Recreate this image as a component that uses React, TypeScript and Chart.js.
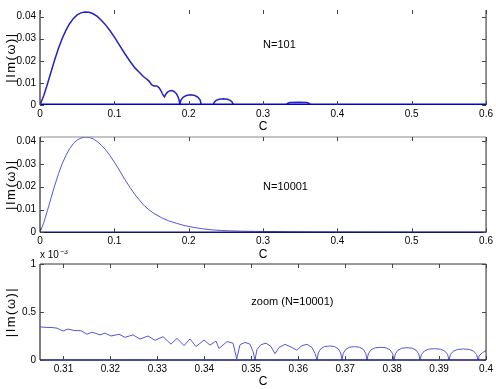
import React, { useEffect, useRef } from "react";
import { Chart, registerables } from "chart.js";

Chart.register(...registerables);

// ---------- Panel 1: N=101 ----------
const c101 = [
  0, 0.005, 0.01, 0.015, 0.02, 0.025, 0.03, 0.035, 0.04, 0.045, 0.05, 0.055, 0.0605, 0.066, 0.0715,
  0.077, 0.0825, 0.0874, 0.094, 0.1008, 0.1075, 0.1142, 0.121, 0.1277, 0.1345, 0.139, 0.143, 0.147, 0.15,
  0.153, 0.157, 0.16, 0.1625, 0.1645, 0.166, 0.1675, 0.169, 0.1715, 0.1745, 0.178, 0.181, 0.1835, 0.1855,
  0.1872, 0.188,
  0.1895, 0.1924, 0.1967, 0.2025, 0.2083, 0.2126, 0.2155, 0.217, 0.233,
  0.2344, 0.237, 0.2411, 0.2465, 0.2519, 0.256, 0.2587, 0.26, 0.3315,
  0.333, 0.336, 0.3475, 0.359, 0.362, 0.3637, 0.6,
];
const im101 = [
  0, 0.0042, 0.0095, 0.0152, 0.0207, 0.0258, 0.0302, 0.0339, 0.0369, 0.0392, 0.0408, 0.0417, 0.0421, 0.042, 0.0413,
  0.0401, 0.0384, 0.0366, 0.0337, 0.0304, 0.0268, 0.0232, 0.0198, 0.0168, 0.0145, 0.0129, 0.0119, 0.0107, 0.0092,
  0.0086, 0.0086, 0.0079, 0.0066, 0.0052, 0.0043, 0.0037, 0.0048, 0.0058, 0.0064, 0.0065, 0.006, 0.0051, 0.0038,
  0.0022, 0,
  0.0022, 0.0035, 0.0043, 0.0046, 0.0043, 0.0035, 0.0022, 0, 0,
  0.0013, 0.0021, 0.0026, 0.0028, 0.0026, 0.0021, 0.0013, 0, 0,
  0.0007, 0.0011, 0.0012, 0.0011, 0.0007, 0, 0,
];
const zeroC101 = [0, 0.6];
const zeroIm101 = [0, 0];

// ---------- Panel 2: N=10001 ----------
const c10001 = [
  0, 0.005, 0.01, 0.015, 0.02, 0.025, 0.03, 0.035, 0.04, 0.045, 0.05, 0.055, 0.0605, 0.066, 0.0715,
  0.077, 0.0825, 0.0874, 0.094, 0.1008, 0.1075, 0.1142, 0.121, 0.1277, 0.1345, 0.1411, 0.148, 0.1546,
  0.1635, 0.1725, 0.184, 0.195, 0.206, 0.2173, 0.23, 0.244, 0.258, 0.271, 0.29, 0.307, 0.33, 0.35, 0.375,
  0.4, 0.45, 0.5, 0.6,
];
const im10001 = [
  0, 0.0042, 0.0095, 0.0152, 0.0207, 0.0258, 0.0302, 0.0338, 0.0367, 0.039, 0.0405, 0.0413, 0.0417, 0.0416, 0.041,
  0.0398, 0.0382, 0.0365, 0.0337, 0.0304, 0.0268, 0.0231, 0.0197, 0.0165, 0.0138, 0.0114, 0.0095, 0.008,
  0.0064, 0.0051, 0.0039, 0.0029, 0.0022, 0.0016, 0.0011, 0.0008, 0.0006, 0.0005, 0.0004, 0.00034, 0.00025,
  0.0002, 0.00014, 0.0001, 0.00006, 0.00004, 0.00002,
];

// ---------- Panel 3: zoom (N=10001), values in units of 1e-3 ----------
const cZoom = [
  0.305, 0.30628, 0.30756, 0.30862, 0.3099, 0.31096, 0.31245, 0.31373, 0.31501, 0.31608, 0.31778, 0.31884,
  0.32012, 0.32183, 0.3231, 0.32481, 0.3263, 0.328, 0.32949, 0.3312, 0.3329, 0.33418, 0.33567, 0.33695,
  0.33823, 0.33993, 0.34121, 0.34249, 0.34313, 0.34483, 0.34611, 0.3469, 0.3476, 0.34866, 0.34973, 0.35037,
  0.35079, 0.35122, 0.35207, 0.35314, 0.3542, 0.35505, 0.3559, 0.35718, 0.35846, 0.35968, 0.3608, 0.36187,
  0.36293, 0.36357, 0.364,
  0.36427, 0.3648, 0.3656, 0.36666, 0.36772, 0.36852, 0.36905, 0.36932,
  0.36959, 0.37012, 0.37092, 0.37199, 0.37305, 0.37385, 0.37438, 0.37465,
  0.37494, 0.37551, 0.37638, 0.37753, 0.37868, 0.37954, 0.38011, 0.3804,
  0.38068, 0.38123, 0.38206, 0.38317, 0.38428, 0.38511, 0.38566, 0.38594,
  0.38625, 0.38687, 0.38779, 0.38903, 0.39026, 0.39118, 0.3918, 0.39211,
  0.39242, 0.39304, 0.39396, 0.3952, 0.39644, 0.39736, 0.39798, 0.39829,
  0.39845, 0.3992, 0.4,
];
const imZoom = [
  0.345, 0.34, 0.338, 0.332, 0.302, 0.322, 0.306, 0.305, 0.268, 0.29, 0.262, 0.28,
  0.25, 0.268, 0.236, 0.262, 0.218, 0.25, 0.205, 0.243, 0.165, 0.226, 0.15, 0.219,
  0.14, 0.208, 0.155, 0.198, 0.12, 0.192, 0.175, 0.01, 0.16, 0.183, 0.165, 0.09,
  0, 0.11, 0.16, 0.175, 0.14, 0.065, 0.13, 0.163, 0.135, 0.104, 0.15, 0.163,
  0.13, 0.07, 0,
  0.073, 0.117, 0.14, 0.146, 0.14, 0.117, 0.073, 0,
  0.07, 0.111, 0.133, 0.139, 0.133, 0.111, 0.07, 0,
  0.066, 0.106, 0.127, 0.132, 0.127, 0.106, 0.066, 0,
  0.064, 0.102, 0.123, 0.128, 0.123, 0.102, 0.064, 0,
  0.059, 0.094, 0.113, 0.118, 0.113, 0.094, 0.059, 0,
  0.058, 0.092, 0.11, 0.115, 0.11, 0.092, 0.058, 0,
  0.04, 0.075, 0.1,
];

// ---------- Ticks ----------
const xTicksFull = [0, 0.1, 0.2, 0.3, 0.4, 0.5, 0.6];
const yTicks1 = [0, 0.01, 0.02, 0.03, 0.04];
const yTicks2 = [0, 0.01, 0.02, 0.03, 0.04];
const xTicksZoom = [0.31, 0.32, 0.33, 0.34, 0.35, 0.36, 0.37, 0.38, 0.39, 0.4];
const yTicksZoom = [0, 0.5, 1];

const FONT = '"Liberation Sans", Arial, Helvetica, sans-serif';
const W = 496;
const RIGHT_EDGE = 486.5;
const LEFT_EDGE = 40;

type Series = { c: number[]; v: number[]; color: string; width: number };
type Spec = {
  height: number;
  areaTop: number;
  areaBottom: number;
  xMin: number;
  xMax: number;
  yMin: number;
  yMax: number;
  xTicks: number[];
  yTicks: number[];
  series: Series[];
  note: { text: string; x: number; y: number };
  topBorder: string | null;
  bottomBorder: string | null;
  exponent?: boolean;
};

function makePlugin(spec: Spec) {
  return {
    id: "matlabAxes",
    afterDraw(chart: any) {
      const { ctx, chartArea: a, scales } = chart;
      const x = scales.x;
      const y = scales.y;
      ctx.save();
      const line = (x1: number, y1: number, x2: number, y2: number) => {
        ctx.beginPath();
        ctx.moveTo(x1, y1);
        ctx.lineTo(x2, y2);
        ctx.stroke();
      };
      // borders
      ctx.lineWidth = 1.5;
      ctx.strokeStyle = "#555";
      line(a.left, a.top, a.left, a.bottom);
      ctx.lineWidth = 1;
      ctx.strokeStyle = "#222";
      line(a.right, a.top, a.right, a.bottom);
      if (spec.topBorder) {
        ctx.strokeStyle = spec.topBorder;
        line(a.left, a.top, a.right, a.top);
      }
      if (spec.bottomBorder) {
        ctx.lineWidth = 1.5;
        ctx.strokeStyle = spec.bottomBorder;
        line(a.left, a.bottom, a.right, a.bottom);
      }
      // inward ticks
      ctx.lineWidth = 1;
      ctx.strokeStyle = "#444";
      const TL = 4;
      for (const t of spec.xTicks) {
        const px = Math.round(x.getPixelForValue(t)) + 0.5;
        line(px, a.bottom, px, a.bottom - TL);
        line(px, a.top, px, a.top + TL);
      }
      for (const t of spec.yTicks) {
        const py = Math.round(y.getPixelForValue(t)) + 0.5;
        line(a.left, py, a.left + TL, py);
        line(a.right, py, a.right - TL, py);
      }
      ctx.fillStyle = "#000";
      // x title
      ctx.font = `12px ${FONT}`;
      ctx.textAlign = "center";
      ctx.textBaseline = "middle";
      ctx.fillText("C", (a.left + a.right) / 2, a.bottom + 22);
      // y title
      ctx.save();
      ctx.translate(11, (a.top + a.bottom) / 2);
      ctx.rotate(-Math.PI / 2);
      ctx.font = `13px ${FONT}`;
      try {
        (ctx as any).letterSpacing = "1.5px";
      } catch (e) {}
      ctx.textAlign = "center";
      ctx.textBaseline = "middle";
      ctx.fillText("|Im(ω)|", 0, 0);
      ctx.restore();
      // note
      ctx.font = `11px ${FONT}`;
      ctx.textAlign = "left";
      ctx.textBaseline = "middle";
      ctx.fillText(spec.note.text, x.getPixelForValue(spec.note.x), y.getPixelForValue(spec.note.y));
      // exponent
      if (spec.exponent) {
        ctx.font = `10px ${FONT}`;
        ctx.textBaseline = "alphabetic";
        const base = "x 10";
        ctx.fillText(base, a.left, a.top - 6);
        const w = ctx.measureText(base).width;
        ctx.font = `7px ${FONT}`;
        ctx.fillText("−3", a.left + w + 1, a.top - 10);
      }
      ctx.restore();
    },
  };
}

function Panel({ spec, top }: { spec: Spec; top: number }) {
  const ref = useRef<HTMLCanvasElement>(null);
  useEffect(() => {
    const canvas = ref.current!;
    const chart = new Chart(canvas, {
      type: "line",
      data: {
        datasets: spec.series.map((s) => ({
          data: s.c.map((cv, i) => ({ x: cv, y: s.v[i] })),
          borderColor: s.color,
          borderWidth: s.width,
          pointRadius: 0,
          tension: 0,
          fill: false,
        })),
      },
      options: {
        responsive: false,
        animation: false,
        devicePixelRatio: 1,
        layout: { padding: { left: 0, right: W - RIGHT_EDGE, top: spec.areaTop, bottom: 0 } },
        plugins: { legend: { display: false }, tooltip: { enabled: false } },
        scales: {
          x: {
            type: "linear",
            min: spec.xMin,
            max: spec.xMax,
            grid: { display: false, drawTicks: false },
            border: { display: false },
            ticks: {
              padding: 3,
              autoSkip: false,
              maxRotation: 0,
              color: "#000",
              font: { family: FONT, size: 10 },
              callback: (v: any) => String(v),
            },
            afterBuildTicks: (axis: any) => {
              axis.ticks = spec.xTicks.map((value) => ({ value }));
            },
            afterFit: (axis: any) => {
              axis.height = spec.height - spec.areaBottom;
            },
          },
          y: {
            type: "linear",
            min: spec.yMin,
            max: spec.yMax,
            grid: { display: false, drawTicks: false },
            border: { display: false },
            ticks: {
              padding: 4,
              autoSkip: false,
              color: "#000",
              font: { family: FONT, size: 10 },
              callback: (v: any) => String(v),
            },
            afterBuildTicks: (axis: any) => {
              axis.ticks = spec.yTicks.map((value) => ({ value }));
            },
            afterFit: (axis: any) => {
              axis.width = LEFT_EDGE;
            },
          },
        },
      } as any,
      plugins: [makePlugin(spec)],
    });
    return () => chart.destroy();
  }, [spec]);
  return (
    <canvas
      ref={ref}
      width={W}
      height={spec.height}
      style={{ position: "absolute", left: 0, top, width: W, height: spec.height, display: "block" }}
    />
  );
}

const spec1: Spec = {
  height: 130,
  areaTop: 8.3,
  areaBottom: 105,
  xMin: 0,
  xMax: 0.6,
  yMin: 0,
  yMax: 0.043,
  xTicks: xTicksFull,
  yTicks: yTicks1,
  series: [
    { c: zeroC101, v: zeroIm101, color: "#0000dd", width: 3 },
    { c: c101, v: im101, color: "#2323c0", width: 1.5 },
  ],
  note: { text: "N=101", x: 0.3, y: 0.027 },
  topBorder: null,
  bottomBorder: null,
};

const spec2: Spec = {
  height: 132,
  areaTop: 11,
  areaBottom: 106.3,
  xMin: 0,
  xMax: 0.6,
  yMin: 0,
  yMax: 0.0418,
  xTicks: xTicksFull,
  yTicks: yTicks2,
  series: [{ c: c10001, v: im10001, color: "#5555dd", width: 1 }],
  note: { text: "N=10001", x: 0.3, y: 0.02 },
  topBorder: "#888",
  bottomBorder: "#141470",
};

const spec3: Spec = {
  height: 139,
  areaTop: 14,
  areaBottom: 110,
  xMin: 0.305,
  xMax: 0.4,
  yMin: 0,
  yMax: 1,
  xTicks: xTicksZoom,
  yTicks: yTicksZoom,
  series: [{ c: cZoom, v: imZoom, color: "#5555dd", width: 1 }],
  note: { text: "zoom (N=10001)", x: 0.35, y: 0.6 },
  topBorder: "#333",
  bottomBorder: "#141470",
  exponent: true,
};

export default function App() {
  return (
    <div style={{ position: "absolute", left: 0, top: 0, width: W, height: 389, background: "#fff", overflow: "hidden" }}>
      <Panel spec={spec1} top={0} />
      <Panel spec={spec2} top={126} />
      <Panel spec={spec3} top={250} />
    </div>
  );
}
